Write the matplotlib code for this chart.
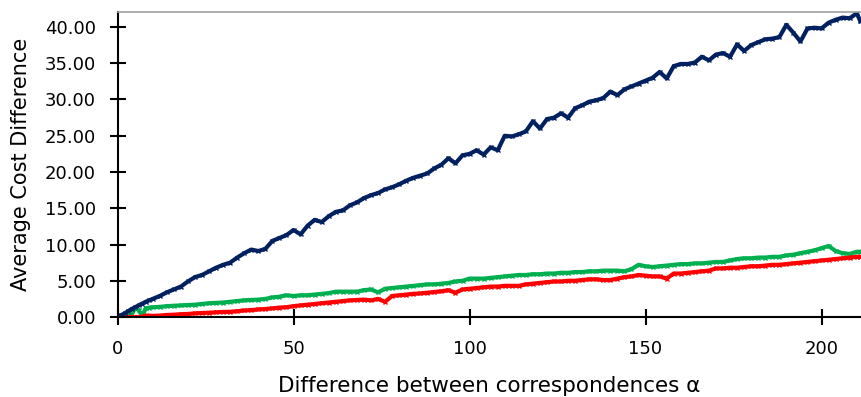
"""Average cost difference vs. difference between correspondences (alpha)."""

from __future__ import annotations

from matplotlib import pyplot as plt

# x positions: unit steps at the very start, then every 2, last point at the edge
ALPHA = list(range(0, 10)) + list(range(10, 211, 2)) + [211]

BLUE_COST = [
    0.0, 0.25, 0.5, 0.8, 1.1, 1.35, 1.6, 1.85, 2.1, 2.3,
    2.5, 2.9, 3.4, 3.8, 4.2, 4.9, 5.5, 5.8, 6.3, 6.8,
    7.2, 7.5, 8.2, 8.8, 9.3, 9.1, 9.4, 10.5, 10.9, 11.3,
    12.0, 11.4, 12.6, 13.4, 13.1, 13.9, 14.5, 14.7, 15.4, 15.8,
    16.4, 16.8, 17.1, 17.6, 17.9, 18.3, 18.8, 19.2, 19.5, 19.8,
    20.5, 21.0, 21.9, 21.2, 22.3, 22.5, 23.0, 22.4, 23.4, 23.0,
    25.0, 24.9, 25.2, 25.6, 27.0, 26.0, 27.3, 27.5, 28.1, 27.5,
    28.8, 29.2, 29.7, 29.9, 30.2, 31.1, 30.6, 31.4, 31.8, 32.2,
    32.6, 33.0, 33.8, 32.9, 34.6, 34.9, 34.9, 35.1, 35.9, 35.4,
    36.2, 36.4, 35.9, 37.6, 36.7, 37.5, 37.9, 38.3, 38.4, 38.6,
    40.3, 39.2, 38.0, 39.8, 39.9, 39.8, 40.6, 41.0, 41.3, 41.2,
    41.9, 40.8,
]

GREEN_COST = [
    0.0, 0.1, 0.2, 0.3, 0.4, 1.2, 1.0, 0.1, 1.2, 1.3,
    1.35, 1.4, 1.5, 1.55, 1.6, 1.65, 1.7, 1.8, 1.9, 1.95,
    2.0, 2.1, 2.2, 2.3, 2.35, 2.4, 2.5, 2.7, 2.8, 3.0,
    2.9, 3.0, 3.0, 3.1, 3.2, 3.3, 3.5, 3.5, 3.5, 3.5,
    3.7, 3.8, 3.4, 3.9, 4.0, 4.1, 4.2, 4.3, 4.4, 4.5,
    4.5, 4.6, 4.7, 4.9, 5.0, 5.3, 5.3, 5.3, 5.4, 5.5,
    5.6, 5.7, 5.8, 5.8, 5.9, 5.9, 6.0, 6.0, 6.1, 6.1,
    6.2, 6.2, 6.3, 6.3, 6.4, 6.4, 6.4, 6.3, 6.6, 7.2,
    7.0, 6.9, 7.0, 7.1, 7.2, 7.3, 7.3, 7.4, 7.4, 7.5,
    7.6, 7.6, 7.8, 8.0, 8.1, 8.1, 8.2, 8.2, 8.3, 8.3,
    8.5, 8.6, 8.8, 9.0, 9.2, 9.5, 9.8, 9.1, 8.8, 8.7,
    9.0, 9.0,
]

RED_COST = [
    0.0, 0.0, 0.0, 0.0, 0.0, 0.0, 0.0, 0.05, 0.2, 0.2,
    0.15, 0.2, 0.28, 0.32, 0.38, 0.42, 0.5, 0.55, 0.6, 0.65,
    0.7, 0.72, 0.8, 0.9, 0.95, 1.05, 1.1, 1.2, 1.3, 1.35,
    1.5, 1.6, 1.7, 1.8, 1.9, 2.0, 2.1, 2.2, 2.3, 2.35,
    2.4, 2.3, 2.5, 2.1, 2.9, 3.0, 3.1, 3.2, 3.25, 3.35,
    3.45, 3.55, 3.7, 3.35, 3.8, 3.9, 4.0, 4.1, 4.2, 4.2,
    4.3, 4.3, 4.3, 4.5, 4.6, 4.7, 4.8, 4.9, 4.9, 5.0,
    5.0, 5.1, 5.2, 5.2, 5.1, 5.1, 5.3, 5.5, 5.6, 5.8,
    5.7, 5.6, 5.6, 5.3, 6.0, 6.0, 6.1, 6.2, 6.3, 6.4,
    6.7, 6.7, 6.8, 6.8, 6.9, 7.0, 7.0, 7.1, 7.2, 7.2,
    7.3, 7.4, 7.5, 7.6, 7.7, 7.8, 7.9, 8.0, 8.1, 8.2,
    8.3, 8.3,
]

Y_TICKS = [0, 5, 10, 15, 20, 25, 30, 35, 40]
X_TICKS = [0, 50, 100, 150, 200]


def main() -> int:
    plt.rcParams["font.family"] = ["DejaVu Sans"]

    fig = plt.figure(figsize=(8.61, 3.97), dpi=100)
    ax = fig.add_axes([0.1365, 0.2015, 0.8635, 0.7683])

    style = dict(linewidth=3.0, marker="x", markersize=2.5, markeredgewidth=1.0)
    ax.plot(ALPHA, GREEN_COST, color="#00b050", **style)
    ax.plot(ALPHA, RED_COST, color="#ff0000", **style)
    ax.plot(ALPHA, BLUE_COST, color="#002060", **style)

    ax.set_xlim(0, 211.2)
    ax.set_ylim(0, 42.07)
    ax.set_xticks(X_TICKS)
    ax.set_yticks(Y_TICKS)
    ax.set_yticklabels([f"{v:.2f}" for v in Y_TICKS])

    for side in ("left", "bottom"):
        ax.spines[side].set_linewidth(1.5)
        ax.spines[side].set_color("black")
    ax.spines["top"].set_color("#a0a0a0")
    ax.spines["top"].set_linewidth(1.2)
    ax.spines["right"].set_visible(False)

    ax.tick_params(axis="both", direction="inout", length=11, width=1.5,
                   labelsize=13, colors="black")
    ax.tick_params(axis="y", pad=10)
    ax.tick_params(axis="x", pad=11)

    ax.set_xlabel("Difference between correspondences α", fontsize=15.5, labelpad=13)
    ax.set_ylabel("Average Cost Difference", fontsize=15, labelpad=10)

    fig.savefig("out.png", dpi=100)
    return 0


if __name__ == "__main__":
    raise SystemExit(main())
